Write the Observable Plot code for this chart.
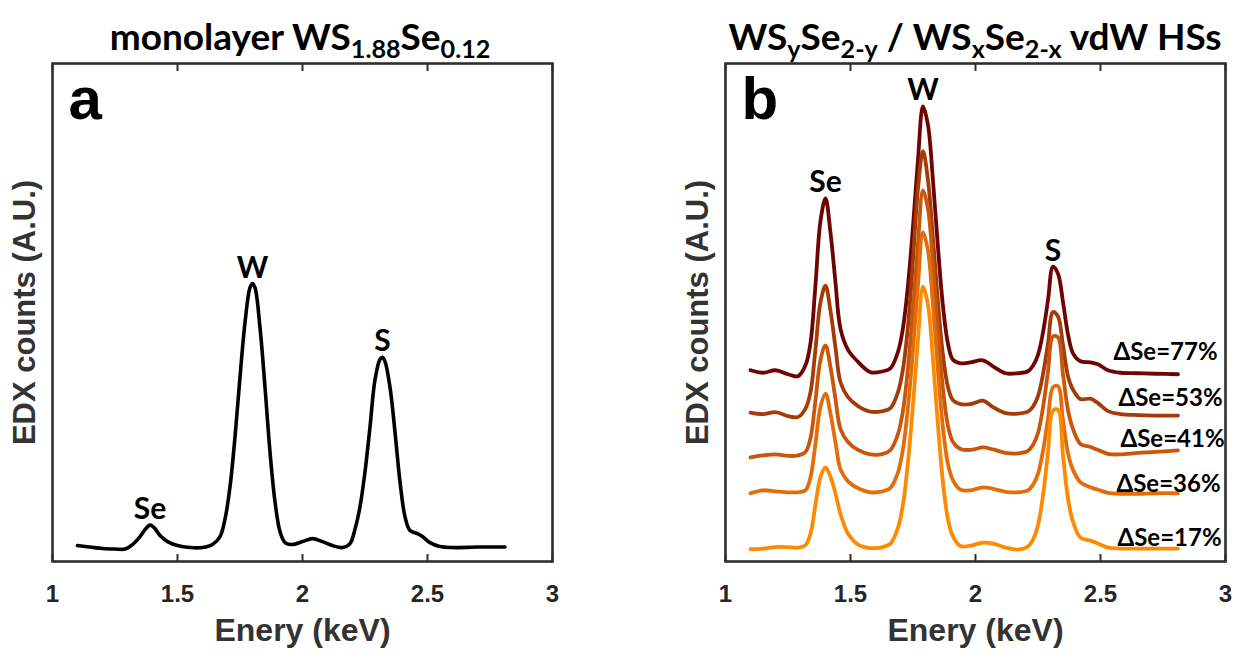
<!DOCTYPE html>
<html>
<head>
<meta charset="utf-8">
<script src="https://cdn.jsdelivr.net/npm/d3@7"></script>
<script src="https://cdn.jsdelivr.net/npm/@observablehq/plot@0.6"></script>
<style>
  html, body { margin: 0; padding: 0; background: #fff; }
  #wrap { position: relative; width: 1237px; height: 654px; overflow: hidden; }
  .panel { position: absolute; top: 0; width: 618px; height: 654px; }
  .panel svg { max-width: none !important; }
  .panel g[aria-label="x-axis tick label"] { font-size: 24px !important; font-weight: 700 !important;
           font-family: 'Liberation Sans', Arial, sans-serif; fill: #262626; }
  .title { position: absolute; top: 16px; text-align: center; font-family: Lato, "Noto Sans", sans-serif;
           font-weight: 700; font-size: 37px; line-height: 40px; color: #000; white-space: nowrap; }
  .title sub { font-size: 0.68em; vertical-align: -0.32em; line-height: 0; }
</style>
</head>
<body>
<div id="wrap">
  <div id="pa" class="panel" style="left:0px"></div>
  <div id="pb" class="panel" style="left:673px"></div>
  <div class="title" style="left:0px;width:600px">monolayer WS<sub>1.88</sub>Se<sub>0.12</sub></div>
  <div class="title" style="left:675px;width:600px">WS<sub>y</sub>Se<sub>2-y</sub> / WS<sub>x</sub>Se<sub>2-x</sub> vdW HSs</div>
</div>
<script>
// ---------- data ----------
const xTicks = [1, 1.5, 2, 2.5, 3];
const xLabel = "Enery (keV)";
const yLabel = "EDX counts (A.U.)";

// panel a: monolayer WS1.88Se0.12
const energyA = [1.10,1.15,1.20,1.25,1.29,1.32,1.35,1.37,1.39,1.41,1.43,1.46,1.50,1.55,1.60,1.64,1.67,1.69,1.71,1.73,1.75,1.77,1.79,1.80,1.81,1.83,1.85,1.87,1.89,1.91,1.93,1.96,2.00,2.04,2.08,2.12,2.16,2.19,2.21,2.23,2.25,2.27,2.29,2.31,2.32,2.33,2.35,2.37,2.39,2.41,2.43,2.46,2.48,2.51,2.55,2.60,2.70,2.81];
const countsA = [3.2,2.9,2.6,2.5,2.5,3.4,5.0,6.4,7.3,6.6,5.2,4.0,3.2,2.8,2.8,3.4,5.0,8.5,15,25,37,48,55,55.8,55,47,35,22,12,6,3.8,3.4,4.0,4.6,4.0,3.2,2.8,3.6,6.5,11,18,27,36.5,40.6,41,40.2,35,26,16,9,6.2,5.6,5.0,3.8,3.0,2.8,2.9,2.9];
const peakNamesA = ["Se", "W", "S"];
const peakEnergyA = [1.39, 1.80, 2.32];

// panel b: WSySe2-y / WSxSe2-x vdW HSs
const energyB = [1.10,1.15,1.20,1.25,1.29,1.32,1.34,1.36,1.38,1.40,1.42,1.44,1.46,1.49,1.53,1.58,1.63,1.66,1.69,1.71,1.73,1.75,1.77,1.79,1.81,1.83,1.85,1.87,1.89,1.91,1.94,1.98,2.03,2.07,2.12,2.17,2.21,2.23,2.25,2.27,2.29,2.31,2.33,2.35,2.37,2.39,2.42,2.46,2.49,2.53,2.58,2.65,2.72,2.81];
const counts77 = [38.4,37.9,38.4,37.6,37.2,39.4,43.9,55.6,68.4,72.9,66.0,56.0,46.7,42.5,40.1,38.0,38.2,38.8,42.1,46.9,55.5,67.3,80.7,91.4,87.6,76.4,63.0,51.2,43.7,40.5,39.8,40.0,40.4,39.2,37.8,37.8,38.2,39.3,41.5,46.0,52.5,59.2,57.8,52.1,45.6,41.8,40.2,40.0,39.6,38.4,37.9,37.8,37.7,37.6];
const counts53 = [29.9,29.6,30.0,29.2,29.0,30.7,34.0,42.7,52.1,55.4,50.3,42.9,36.0,33.0,31.2,30.1,30.2,30.8,34.0,38.7,47.3,60.6,74.9,82.4,76.5,64.8,52.0,41.4,35.0,32.4,31.6,31.6,32.3,31.0,29.8,29.7,30.1,31.1,33.2,37.6,43.8,50.1,49.2,43.4,37.2,34.5,32.6,32.7,31.8,30.2,29.6,29.4,29.3,29.3];
const counts41 = [20.9,21.3,21.5,21.2,21.3,22.0,24.8,32.4,40.5,43.4,39.0,32.6,26.6,24.0,22.4,21.5,21.6,22.4,25.6,30.3,38.9,50.6,63.9,74.5,70.8,59.6,46.3,34.6,27.2,24.0,22.6,22.4,22.9,22.5,21.8,21.7,22.2,23.4,25.8,30.9,38.1,45.2,45.0,37.6,30.4,26.6,23.6,23.0,22.4,21.6,21.5,21.8,22.0,22.3];
const counts36 = [13.7,14.3,14.1,13.9,13.9,14.3,16.9,23.7,31.1,33.7,29.7,23.9,18.5,16.1,14.7,13.9,14.1,14.8,17.9,22.6,31.0,42.5,55.6,66.1,62.4,51.4,38.3,26.8,19.5,16.3,14.4,14.3,14.9,14.6,14.0,13.9,14.3,15.4,17.6,22.2,28.7,35.0,35.2,28.3,21.7,18.4,15.9,14.9,14.4,13.8,13.6,13.6,13.7,13.7];
const counts17 = [2.5,2.6,2.9,2.9,2.8,3.3,5.6,11.5,17.0,18.9,17.0,13.6,9.5,5.6,3.4,2.7,2.9,3.6,6.8,11.5,20.0,31.5,44.7,55.2,51.5,40.5,27.3,15.8,8.4,5.0,3.1,3.2,3.8,3.6,2.8,2.4,3.0,4.4,7.3,13.3,21.9,30.3,30.5,21.3,12.7,8.0,4.8,4.2,3.6,2.8,2.6,2.6,2.6,2.6];
const seriesB = ["ΔSe=77%", "ΔSe=53%", "ΔSe=41%", "ΔSe=36%", "ΔSe=17%"];
const countsB = [counts77, counts53, counts41, counts36, counts17];
const colorsB = ["#6e0503", "#a43b08", "#c8560b", "#e26d0b", "#ff8a00"];
const seriesLabelEnergy = [2.552, 2.572, 2.58, 2.564, 2.568];
const seriesLabelCounts = [42.0, 32.7, 24.5, 15.5, 4.6];
const peakNamesB = ["Se", "W", "S"];
const peakEnergyB = [1.40, 1.79, 2.31];

// ---------- helpers ----------
const axisFont = "'Liberation Sans', Arial, sans-serif";
const labelFont = "Lato, 'Noto Sans', sans-serif";

function peakRows(names, energies, xs, ys) {
  return names.map((n, i) => {
    const j = d3.minIndex(xs, x => Math.abs(x - energies[i]));
    return {name: n, x: xs[j], y: ys[j]};
  });
}

function panel({lineMarks, peaks, letter, extra = [], color}) {
  return Plot.plot({
    width: 618, height: 654,
    marginLeft: 52, marginRight: 66, marginTop: 63, marginBottom: 93,
    x: {domain: [1, 3]},
    y: {domain: [0, 100], axis: null},
    color,
    style: {background: "transparent", fontFamily: axisFont, fontSize: "24px", fontWeight: "bold",
            color: "#262626", overflow: "visible"},
    marks: [
      ...lineMarks,
      Plot.text(peaks, {x: "x", y: "y", text: "name", lineAnchor: "bottom", dy: -6,
        fontFamily: labelFont, fontWeight: 700, fontSize: 30, fill: "#000"}),
      ...extra,
      Plot.axisX({anchor: "bottom", ticks: xTicks, tickSize: -7, tickPadding: 30,
        tickFormat: d => String(d), fill: "#262626", stroke: "#2e2e2e",
        strokeWidth: 2, label: null}),
      Plot.axisX({anchor: "top", ticks: xTicks, tickSize: -7, tickFormat: () => "",
        stroke: "#2e2e2e", strokeWidth: 2, label: null}),
      Plot.frame({stroke: "#2e2e2e", strokeWidth: 2.6}),
      Plot.text([xLabel], {frameAnchor: "bottom", dy: 79, fontSize: 32, fontWeight: 700,
        fill: "#333", fontFamily: axisFont}),
      Plot.text([yLabel], {frameAnchor: "left", textAnchor: "middle", rotate: -90, dx: -27, fontSize: 31,
        fontWeight: 700, fill: "#333", fontFamily: axisFont}),
      Plot.text([letter], {frameAnchor: "top-left", dx: 16, dy: 55, lineAnchor: "bottom", textAnchor: "start",
        fontSize: 60, fontWeight: 700, fill: "#000", fontFamily: axisFont})
    ]
  });
}

// ---------- panel a ----------
const rowsA = energyA.map((e, i) => ({e, c: countsA[i]}));
const plotA = panel({
  lineMarks: [Plot.line(rowsA, {x: "e", y: "c", stroke: "#000", strokeWidth: 3.6, curve: "catmull-rom"})],
  peaks: peakRows(peakNamesA, peakEnergyA, energyA, countsA),
  letter: "a"
});
document.getElementById("pa").append(plotA);

// ---------- panel b ----------
const rowsB = seriesB.flatMap((s, k) => energyB.map((e, i) => ({s, e, c: countsB[k][i]})));
const labelsB = seriesB.map((s, k) => ({s, x: seriesLabelEnergy[k], y: seriesLabelCounts[k]}));
const plotB = panel({
  lineMarks: [Plot.line(rowsB, {x: "e", y: "c", z: "s", stroke: "s", strokeWidth: 3.8, curve: "catmull-rom"})],
  peaks: peakRows(peakNamesB, peakEnergyB, energyB, counts77),
  letter: "b",
  color: {domain: seriesB, range: colorsB},
  extra: [Plot.text(labelsB, {x: "x", y: "y", text: "s", textAnchor: "start", fontFamily: labelFont,
    fontWeight: 700, fontSize: 24, fill: "#000"})]
});
document.getElementById("pb").append(plotB);
</script>
</body>
</html>
